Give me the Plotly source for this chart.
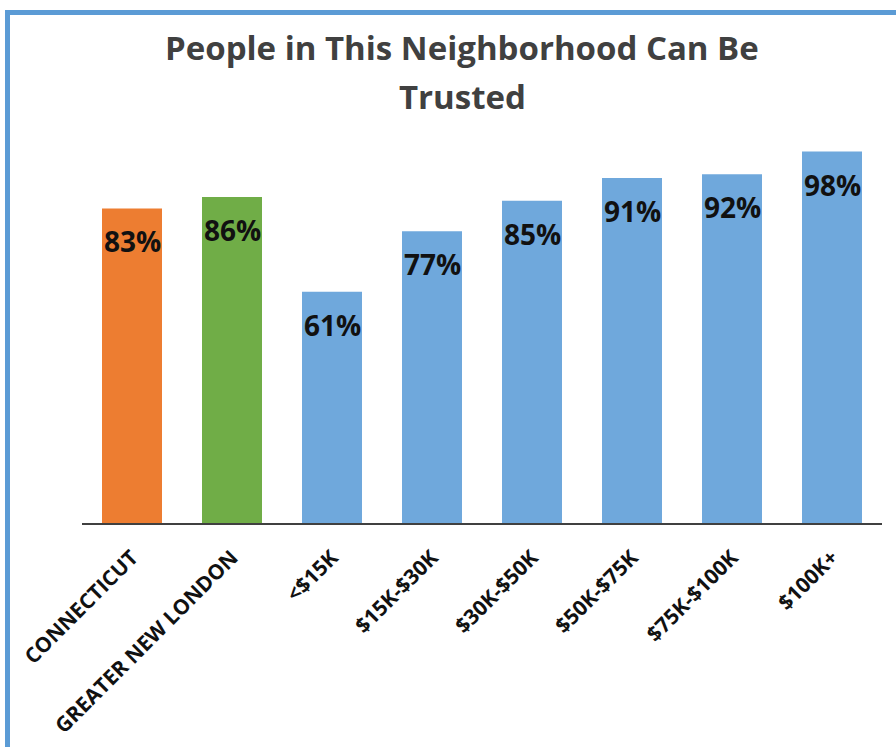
import plotly.graph_objects as go

categories = ["CONNECTICUT", "GREATER NEW LONDON", "<$15K", "$15K-$30K",
              "$30K-$50K", "$50K-$75K", "$75K-$100K", "$100K+"]
values = [83, 86, 61, 77, 85, 91, 92, 98]
bar_colors = ["#ED7D31", "#70AD47", "#6FA8DC", "#6FA8DC", "#6FA8DC",
              "#6FA8DC", "#6FA8DC", "#6FA8DC"]
title_lines = ["People in This Neighborhood Can Be", "Trusted"]

W, H = 896, 747
ml, mr, mt, mb = 82, 14, 144, 224
pw, ph = W - ml - mr, H - mt - mb

def px_to_paper_x(px):
    return (px - ml) / pw

def px_to_paper_y(py):
    return (H - mb - py) / ph

fig = go.Figure()
fig.add_trace(go.Bar(
    x=categories, y=values, marker=dict(color=bar_colors, line=dict(width=0)),
    width=0.6, hoverinfo="skip"))

for c, v in zip(categories, values):
    fig.add_annotation(x=c, y=v, xref="x", yref="y", text=f"{v}%",
                       showarrow=False, yanchor="middle", yshift=-33,
                       font=dict(family="Open Sans", size=28, color="#111111",
                                 weight="bold"))

for i, line in enumerate(title_lines):
    fig.add_annotation(x=px_to_paper_x(462), y=px_to_paper_y(47 + 50 * i),
                       xref="paper", yref="paper", text=line, showarrow=False,
                       xanchor="center", yanchor="middle",
                       font=dict(family="Open Sans", size=33, color="#404040",
                                 weight="bold"))

# frame border
fig.add_shape(type="rect", xref="paper", yref="paper",
              x0=px_to_paper_x(7.5), x1=px_to_paper_x(W + 20),
              y0=px_to_paper_y(H + 20), y1=px_to_paper_y(12.5),
              line=dict(color="#5B9BD5", width=5), fillcolor="rgba(0,0,0,0)",
              layer="below")

fig.update_layout(
    width=W, height=H,
    margin=dict(l=ml, r=mr, t=mt, b=mb, pad=0),
    paper_bgcolor="white", plot_bgcolor="white",
    showlegend=False,
    bargap=0.4,
    xaxis=dict(range=[-0.5, 7.5], showline=True, linecolor="#404040",
               linewidth=2, ticks="", tickangle=-45, showgrid=False,
               ticklabelstandoff=12, automargin=False,
               tickfont=dict(family="Open Sans", size=21, color="#111111",
                             weight="bold")),
    yaxis=dict(range=[0, 100], visible=False, showgrid=False, zeroline=False,
               automargin=False),
)

fig.write_html("out.html", config={"displayModeBar": False},
               post_script="document.body.style.margin='0';document.body.style.overflow='hidden';")
